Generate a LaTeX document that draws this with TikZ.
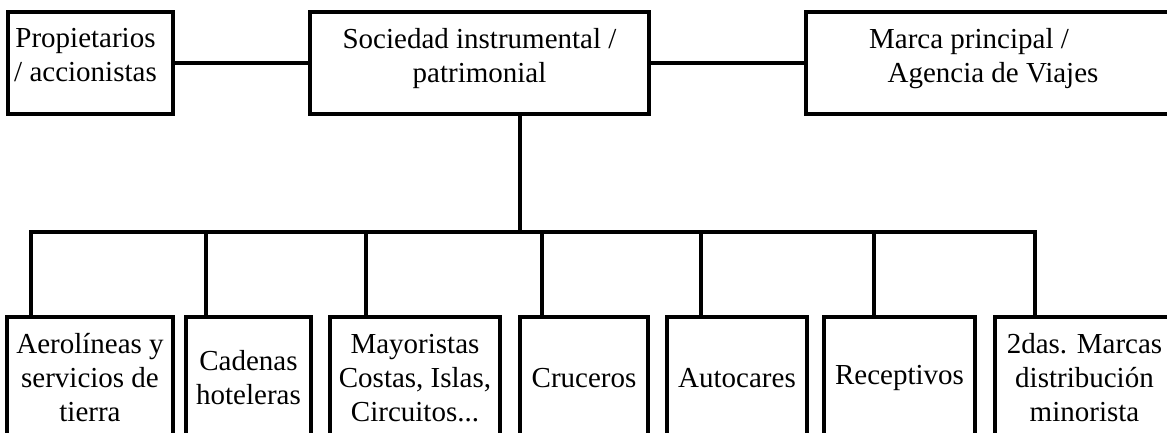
\documentclass[tikz,border=0pt]{standalone}
\usepackage{fontspec}
\setmainfont{Liberation Serif}
\usetikzlibrary{calc}

\tikzset{
    orgbox/.style={rectangle, draw=black, line width=3.8pt, outer sep=0pt, inner sep=0pt, align=center, font=\fontsize{29}{34}\selectfont},
    topbox/.style={orgbox, minimum height=102pt, text depth=16pt},
    lowbox/.style={orgbox, minimum height=122pt},
    link/.style={line width=3.8pt, line join=miter},
}

\begin{document}
\begin{tikzpicture}[x=1pt, y=-1pt]
    \useasboundingbox (0,0) rectangle (1167,432);
    \clip (0,0) rectangle (1167,432);

    \node [topbox, minimum width=165pt] (owners) at (90.5,63) {Propietarios\hspace*{10pt}\\/ accionistas\hspace*{10pt}};
    \node [topbox, minimum width=339pt] (holding) at (479.5,63) {Sociedad instrumental /\\patrimonial};
    \node [topbox, minimum width=374pt] (brand) at (993,63) {Marca principal /\hspace*{48pt}\\Agencia de Viajes};

    \node [lowbox, minimum width=166pt] (air) at (90,378) {Aerolíneas y\\servicios de\\tierra};
    \node [lowbox, minimum width=125pt] (hotel) at (248.5,378) {Cadenas\\hoteleras};
    \node [lowbox, minimum width=170pt] (tour) at (415,378) {Mayoristas\\Costas, Islas,\\Circuitos...};
    \node [lowbox, minimum width=128pt] (cruise) at (584,378) {Cruceros};
    \node [lowbox, minimum width=140pt] (coach) at (737,378) {Autocares};
    \node [lowbox, minimum width=151pt] (incoming) at (899.5,378) {Receptivos};
    \node [lowbox, minimum width=179pt] (retail) at (1084.5,378) {2das. Marcas\\distribución\\minorista};

    \coordinate (bus) at (520,232);

    \draw [link] (owners.east) -- (holding.west);
    \draw [link] (holding.east) -- (brand.west);
    \draw [link] (holding.south -| bus) -- (bus);
    \draw [link] ([xshift=24pt]air.north west) |- (bus);
    \draw [link] ([xshift=20pt]hotel.north west) |- (bus);
    \draw [link] ([xshift=36pt]tour.north west) |- (bus);
    \draw [link] ([xshift=22pt]cruise.north west) |- (bus);
    \draw [link] ([xshift=34pt]coach.north west) |- (bus);
    \draw [link] ([xshift=50pt]incoming.north west) |- (bus);
    \draw [link] ([xshift=40pt]retail.north west) |- (bus);
\end{tikzpicture}
\end{document}
